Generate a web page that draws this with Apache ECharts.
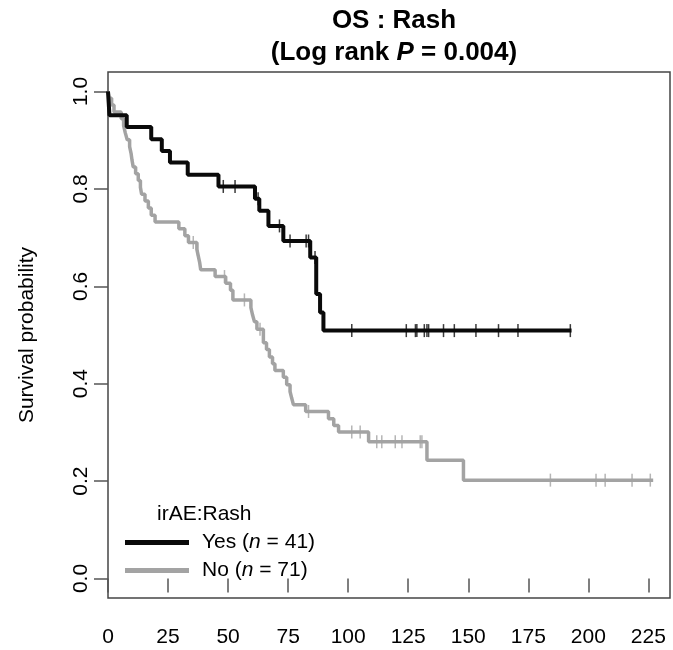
<!DOCTYPE html>
<html><head><meta charset="utf-8">
<script src="https://cdn.jsdelivr.net/npm/echarts@6/dist/echarts.min.js"></script>
<style>html,body{margin:0;padding:0;background:#fff}#c{width:673px;height:650px}</style>
</head><body><div id="c"></div>
<script>
// Kaplan-Meier step data
const yesTimes = [0, 0.3, 0.6, 7.8, 18, 22.4, 25.8, 33.2, 46, 61.2, 63, 66.8, 73, 84.2, 86.7, 88.3, 89.7, 193];
const yesSurv  = [1, 0.976, 0.951, 0.927, 0.902, 0.878, 0.854, 0.829, 0.805, 0.780, 0.755, 0.724, 0.693, 0.659, 0.584, 0.546, 0.509, 0.509];
const yesCensor = [48, 52.9, 62.5, 71.4, 75.8, 82.5, 83.5, 86.2, 101.5, 124.2, 128, 128.6, 131.7, 132.8, 133.5, 139.7, 144.2, 153.2, 162.6, 170.7, 192.5];

const noTimes = [0, 0.5, 1.5, 2.5, 5.5, 6.5, 7.2, 8, 9, 9.6, 10, 10.5, 11.5, 12.6, 13.5, 14, 15.4, 16.8, 18, 19.6, 29.5, 32, 33.5, 37, 37.6, 38.2, 38.6, 44.6, 49, 51, 52, 59.5, 60.2, 61, 62, 64.7, 66, 67.2, 68.5, 69.5, 73, 74.4, 75.8, 76.5, 77.2, 82.3, 91.8, 94, 96, 108.5, 132.8, 148, 227];
const noSurv  = [1, 0.986, 0.972, 0.958, 0.944, 0.930, 0.915, 0.901, 0.887, 0.873, 0.859, 0.845, 0.831, 0.817, 0.803, 0.789, 0.775, 0.761, 0.746, 0.732, 0.718, 0.704, 0.690, 0.676, 0.662, 0.648, 0.634, 0.620, 0.606, 0.592, 0.572, 0.556, 0.541, 0.527, 0.512, 0.484, 0.470, 0.455, 0.441, 0.427, 0.413, 0.398, 0.384, 0.370, 0.357, 0.343, 0.328, 0.314, 0.301, 0.281, 0.243, 0.202, 0.202];
const noCensor = [35.5, 37.3, 48.5, 56.8, 63.3, 83.5, 101.5, 105, 111.9, 114, 119.6, 122.4, 130, 130.7, 184.2, 203.2, 207, 218.2, 225.8];

const xTicks = [0, 25, 50, 75, 100, 125, 150, 175, 200, 225];
const yTicks = [0, 0.2, 0.4, 0.6, 0.8, 1.0];
const groupNames = ['Yes', 'No'];
const groupN = [41, 71];

function survAt(times, surv, t) {
  let s = surv[0];
  for (let i = 0; i < times.length; i++) { if (times[i] <= t) s = surv[i]; }
  return s;
}
const pair = (ts, ss) => ts.map((t, i) => [t, ss[i]]);
const cens = (cs, ts, ss) => cs.map(t => [t, survAt(ts, ss, t)]);

const FONT = "'Liberation Sans', Arial, sans-serif";
const BLACK = '#0a0a0a', GREY = '#a3a3a3';

const chart = echarts.init(document.getElementById('c'), null, {renderer: 'canvas'});
chart.setOption({
  animation: false,
  backgroundColor: '#fff',
  title: [{
    text: '{b|OS : Rash}\n{b|(Log rank }{bi|P}{b| = 0.004)}',
    left: 389, top: 0, textAlign: 'center',
    textStyle: {
      rich: {
        b: {fontFamily: FONT, fontWeight: 'bold', fontSize: 26, color: '#000', lineHeight: 32},
        bi: {fontFamily: FONT, fontWeight: 'bold', fontStyle: 'italic', fontSize: 26, color: '#000', lineHeight: 32}
      }
    }
  }, {
    text: 'irAE:Rash', left: 152, top: 499,
    textStyle: {fontFamily: FONT, fontWeight: 'normal', fontSize: 21, color: '#000'}
  }],
  legend: {
    data: groupNames, orient: 'vertical', left: 120, top: 527,
    icon: 'rect', itemWidth: 64, itemHeight: 5, itemGap: 7,
    formatter: name => {
      const n = groupN[groupNames.indexOf(name)];
      return '{t|' + name + ' (}{i|n}{t| = ' + n + ')}';
    },
    textStyle: {
      padding: [0, 0, 0, 8],
      rich: {
        t: {fontFamily: FONT, fontSize: 21, color: '#000', lineHeight: 21},
        i: {fontFamily: FONT, fontSize: 21, fontStyle: 'italic', color: '#000', lineHeight: 21}
      }
    }
  },
  grid: {left: 108, right: 3, top: 72, bottom: 52, show: true, borderColor: '#454545', borderWidth: 1.5, backgroundColor: 'transparent'},
  xAxis: {
    type: 'value', min: 0, max: 234,
    axisLine: {show: false},
    splitLine: {show: false},
    axisTick: {show: true, customValues: xTicks, length: 14, lineStyle: {color: '#555', width: 1.5}},
    axisLabel: {customValues: xTicks, margin: 29, fontFamily: FONT, fontSize: 21, color: '#000'}
  },
  yAxis: {
    type: 'value', min: -0.04, max: 1.04,
    name: 'Survival probability', nameLocation: 'middle', nameGap: 70, nameRotate: 90,
    nameTextStyle: {fontFamily: FONT, fontSize: 21, color: '#000'},
    axisLine: {show: false},
    splitLine: {show: false},
    axisTick: {show: true, customValues: yTicks, length: 14, lineStyle: {color: '#555', width: 1.5}},
    axisLabel: {customValues: yTicks, rotate: 90, margin: 16, fontFamily: FONT, fontSize: 21, color: '#000',
      formatter: v => v.toFixed(1)}
  },
  series: [{
    name: 'No', type: 'line', step: 'end', showSymbol: false, color: GREY,
    lineStyle: {color: GREY, width: 3.5}, data: pair(noTimes, noSurv), z: 2
  }, {
    name: 'Yes', type: 'line', step: 'end', showSymbol: false, color: BLACK,
    lineStyle: {color: BLACK, width: 4}, data: pair(yesTimes, yesSurv), z: 3
  }, {
    name: 'No censored', type: 'scatter', symbol: 'rect', symbolSize: [1.5, 13],
    itemStyle: {color: GREY}, data: cens(noCensor, noTimes, noSurv), z: 4
  }, {
    name: 'Yes censored', type: 'scatter', symbol: 'rect', symbolSize: [1.5, 13],
    itemStyle: {color: BLACK}, data: cens(yesCensor, yesTimes, yesSurv), z: 5
  }]
});
</script></body></html>
